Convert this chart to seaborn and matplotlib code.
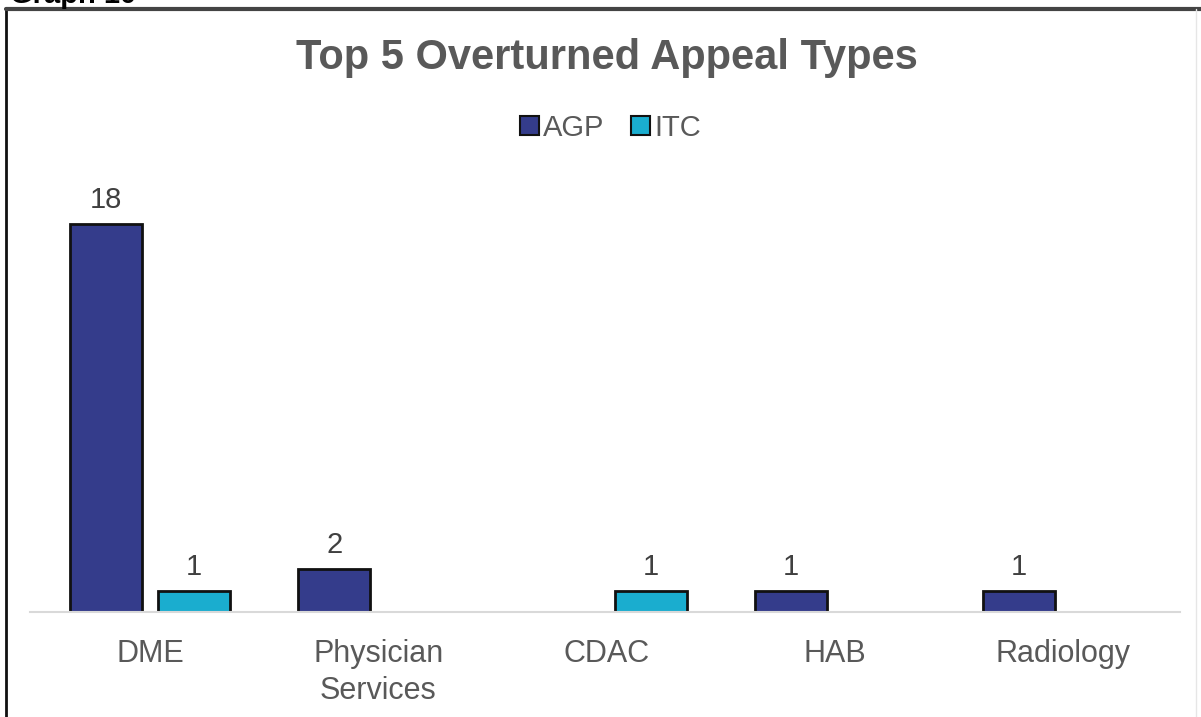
import matplotlib
matplotlib.use("Agg")
import matplotlib.pyplot as plt
from matplotlib.lines import Line2D
from matplotlib.patches import Patch
import seaborn as sns
import pandas as pd

categories = ["DME", "Physician\nServices", "CDAC", "HAB", "Radiology"]
series_names = ["AGP", "ITC"]
agp_values = [18, 2, 0, 1, 1]
itc_values = [1, 0, 1, 0, 0]
colors = {"AGP": "#343C8B", "ITC": "#1AADCF"}

rows = []
for cat, a, i in zip(categories, agp_values, itc_values):
    rows.append({"Category": cat, "Series": "AGP", "Count": a})
    rows.append({"Category": cat, "Series": "ITC", "Count": i})
df = pd.DataFrame(rows)

sns.set_theme(style="white")
plt.rcParams["font.family"] = ["Liberation Sans", "DejaVu Sans"]

fig = plt.figure(figsize=(12.01, 7.17), dpi=100)
ax = fig.add_axes([30 / 1201, 0.146, 1150 / 1201, 0.6025])

sns.barplot(data=df, x="Category", y="Count", hue="Series",
            hue_order=series_names, palette=colors, order=categories,
            width=0.772, gap=0.18, edgecolor="#111111", linewidth=2,
            saturation=1, legend=False, ax=ax)

ax.set_xlim(-0.526, 4.512)
ax.set_ylim(0, 20)
ax.set_xlabel("")
ax.set_ylabel("")
ax.set_yticks([])
for side in ["left", "right", "top"]:
    ax.spines[side].set_visible(False)
ax.spines["bottom"].set_color("#D9D9D9")
ax.spines["bottom"].set_linewidth(1.5)
ax.tick_params(axis="x", length=0, pad=19, labelsize=22, labelcolor="#595959")
for lbl in ax.get_xticklabels():
    lbl.set_linespacing(1.3)

# value labels above each non-empty bar
for container, vals in zip(ax.containers, [agp_values, itc_values]):
    labels = [str(v) if v else "" for v in vals]
    ax.bar_label(container, labels=labels, padding=7, fontsize=21, color="#404040")

fig.text(0.505, 1 - 58 / 717, "Top 5 Overturned Appeal Types", ha="center", va="center",
         fontsize=30, fontweight="bold", color="#595959")

handles = [Patch(facecolor=colors[s], edgecolor="#111111", linewidth=1.5, label=s)
           for s in series_names]
fig.legend(handles=handles, loc="center", bbox_to_anchor=(0.508, 1 - 128 / 717), ncol=2,
           frameon=False, fontsize=21, labelcolor="#595959",
           handlelength=0.65, handleheight=0.65, handletextpad=0.15, columnspacing=0.9)

# outer frame
fig.add_artist(Line2D([6 / 1201, 6 / 1201], [0, 1 - 8 / 717], transform=fig.transFigure,
                      color="#111111", linewidth=2))
fig.add_artist(Line2D([6 / 1201, 1], [1 - 9 / 717, 1 - 9 / 717], transform=fig.transFigure,
                      color="#444444", linewidth=3))
fig.add_artist(Line2D([1196 / 1201, 1196 / 1201], [0, 1 - 9 / 717], transform=fig.transFigure,
                      color="#E6E6E6", linewidth=1))
fig.text(10 / 1201, 1 - 3 / 717, "Graph 10", ha="left", va="baseline",
         fontsize=21, fontweight="bold", color="#000000")

fig.savefig("out.png", dpi=100)
